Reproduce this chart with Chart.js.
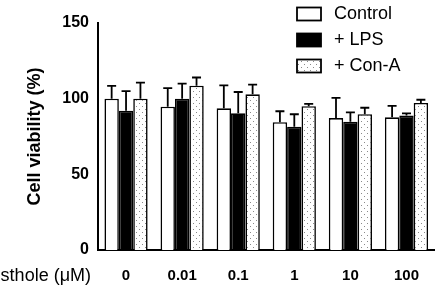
<!DOCTYPE html>
<html>
<head>
<meta charset="utf-8">
<script src="https://cdn.jsdelivr.net/npm/chart.js@4"></script>
<style>
  html, body { margin: 0; padding: 0; background: #fff; }
  #wrap { width: 436px; height: 289px; position: relative; }
</style>
</head>
<body>
<div id="wrap"><canvas id="chart"></canvas></div>
<script>
const CATEGORIES = ['0', '0.01', '0.1', '1', '10', '100'];
const SERIES_NAMES = ['Control', '+ LPS', '+ Con-A'];
const CONTROL = [100, 94.7, 93.6, 84.4, 87.2, 87.7];
const LPS = [92, 100, 90.3, 81.5, 84.8, 88.8];
const CONA = [100, 108.6, 102.9, 95, 89.7, 97.2];
// upper error (SD) for each bar
const CONTROL_ERR = [8.5, 12.3, 15.2, 7.3, 13.3, 7.5];
const LPS_ERR = [13, 10, 14.1, 8.2, 6.2, 1.5];
const CONA_ERR = [10.6, 5.4, 6.4, 1.5, 4.3, 2.1];
const Y_TICKS = [0, 50, 100, 150];
const X_TITLE = 'Osthole (\u03bcM)';
const Y_TITLE = 'Cell viability (%)';

function dotPattern() {
    const c = document.createElement('canvas');
    c.width = 6; c.height = 6;
    const g = c.getContext('2d');
    g.fillStyle = '#fff';
    g.fillRect(0, 0, 6, 6);
    g.fillStyle = '#8a8a8a';
    g.fillRect(1, 1, 1, 1);
    g.fillRect(4, 4, 1, 1);
    return g.createPattern(c, 'repeat');
}
const dots = dotPattern();
const fills = ['#ffffff', '#000000', dots];

// upward error bars with caps
const errorBars = {
    id: 'errorBars',
    afterDatasetsDraw(chart) {
        const ctx = chart.ctx;
        const y = chart.scales.y;
        ctx.save();
        ctx.strokeStyle = '#000';
        ctx.lineWidth = 1.8;
        chart.data.datasets.forEach((ds, i) => {
            const meta = chart.getDatasetMeta(i);
            meta.data.forEach((bar, j) => {
                const top = y.getPixelForValue(ds.data[j] + ds.errors[j]);
                ctx.beginPath();
                ctx.moveTo(bar.x, bar.y);
                ctx.lineTo(bar.x, top);
                ctx.moveTo(bar.x - 4.5, top);
                ctx.lineTo(bar.x + 4.5, top);
                ctx.stroke();
            });
        });
        ctx.restore();
    }
};

// legend in the top right corner and the x title on the left
const extras = {
    id: 'extras',
    afterDraw(chart) {
        const ctx = chart.ctx;
        ctx.save();
        const rows = [14, 40, 66];
        chart.data.datasets.forEach((ds, i) => {
            ctx.fillStyle = fills[i];
            ctx.fillRect(297, rows[i] - 6.5, 24, 13);
            ctx.strokeStyle = '#000';
            ctx.lineWidth = 1.8;
            ctx.strokeRect(297, rows[i] - 6.5, 24, 13);
            ctx.fillStyle = '#000';
            ctx.font = '18px "Liberation Sans", Arial, sans-serif';
            ctx.textAlign = 'left';
            ctx.textBaseline = 'middle';
            ctx.fillText(ds.label, 334, rows[i] + 0.5);
        });
        ctx.font = '18px "Liberation Sans", Arial, sans-serif';
        ctx.textAlign = 'right';
        ctx.textBaseline = 'middle';
        ctx.fillText(X_TITLE, 91, 276);
        ctx.restore();
    }
};

const makeSet = (i, data, errors) => ({
    label: SERIES_NAMES[i],
    data: data,
    errors: errors,
    backgroundColor: fills[i],
    borderColor: '#000',
    borderWidth: 1.6,
    borderSkipped: 'bottom',
    categoryPercentage: 0.77,
    barPercentage: 1.0
});

new Chart(document.getElementById('chart'), {
    type: 'bar',
    data: {
        labels: CATEGORIES,
        datasets: [
            makeSet(0, CONTROL, CONTROL_ERR),
            makeSet(1, LPS, LPS_ERR),
            makeSet(2, CONA, CONA_ERR)
        ]
    },
    options: {
        responsive: true,
        maintainAspectRatio: false,
        animation: false,
        layout: { padding: { top: 23, right: 0, left: 0, bottom: 0 } },
        plugins: { legend: { display: false }, tooltip: { enabled: false } },
        scales: {
            x: {
                grid: { display: false, drawTicks: false },
                border: { color: '#000', width: 2 },
                ticks: {
                    color: '#000',
                    padding: 17,
                    font: { family: '"Liberation Sans", Arial, sans-serif', size: 15, weight: 'bold' }
                },
                afterFit(scale) { scale.height = 39; }
            },
            y: {
                min: 0,
                max: 150,
                afterBuildTicks(scale) { scale.ticks = Y_TICKS.map(v => ({ value: v })); },
                grid: { display: false, drawOnChartArea: false, drawTicks: true, tickLength: 7, tickColor: '#000', tickWidth: 2 },
                border: { color: '#000', width: 2 },
                ticks: {
                    color: '#000',
                    padding: 2,
                    font: { family: '"Liberation Sans", Arial, sans-serif', size: 16, weight: 'bold' }
                },
                title: {
                    display: true,
                    text: Y_TITLE,
                    color: '#000',
                    padding: { top: 24, bottom: 0 },
                    font: { family: '"Liberation Sans", Arial, sans-serif', size: 18, weight: 'bold' }
                },
                afterFit(scale) { scale.width = 98; }
            }
        }
    },
    plugins: [errorBars, extras]
});
</script>
</body>
</html>
